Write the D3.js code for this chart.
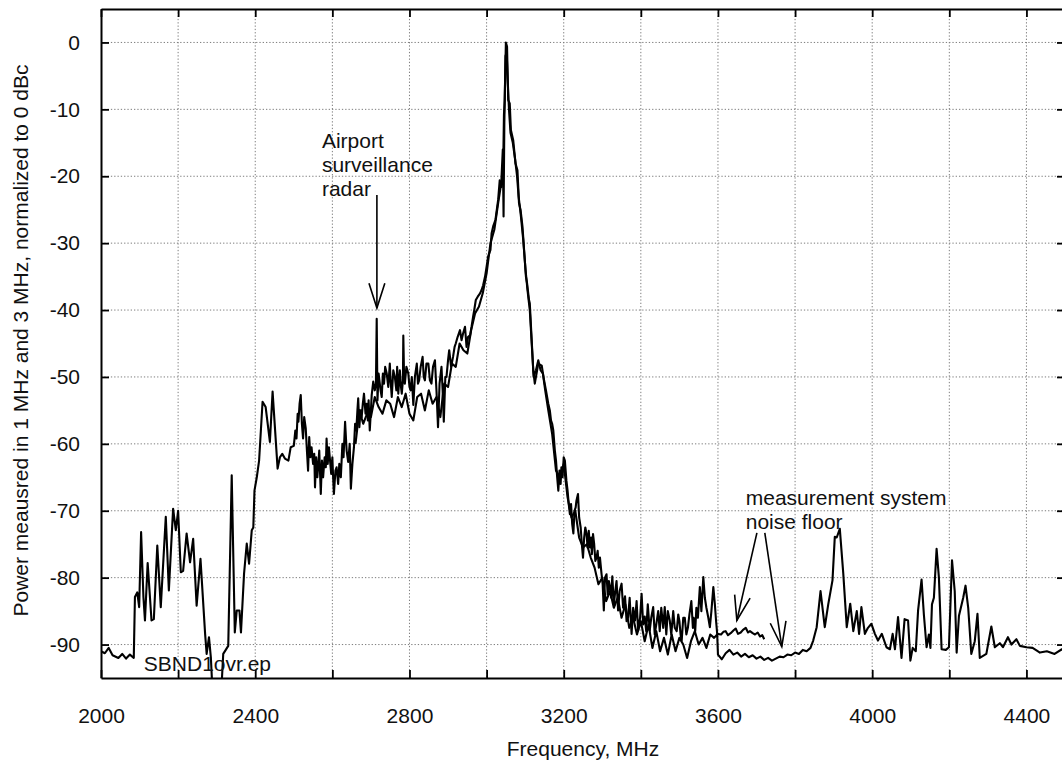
<!DOCTYPE html>
<html>
<head>
<meta charset="utf-8">
<script src="https://cdn.jsdelivr.net/npm/d3@7/dist/d3.min.js"></script>
<style>
  html, body { margin: 0; padding: 0; background: #fff; }
  svg { display: block; }
  text { font-family: "Liberation Sans", Arial, Helvetica, sans-serif; fill: #111; }
</style>
</head>
<body>
<svg id="chart" width="1062" height="768"></svg>
<script>
// ---- data ----
const xTicks = [2000, 2200, 2400, 2600, 2800, 3000, 3200, 3400, 3600, 3800, 4000, 4200, 4400];
const xTickLabels = ["2000", "", "2400", "", "2800", "", "3200", "", "3600", "", "4000", "", "4400"];
const yTicks = [0, -10, -20, -30, -40, -50, -60, -70, -80, -90];
const yTickLabels = ["0", "-10", "-20", "-30", "-40", "-50", "-60", "-70", "-80", "-90"];

// Trace A: [MHz, dBc], 2000 - 3720 MHz (ends on the upper noise floor)
const traceA = [
[2000,-91.0],[2010,-91.3],[2020,-90.5],[2030,-91.6],[2045,-92.0],[2055,-91.4],[2065,-92.1],[2075,-91.5],[2085,-92.0],[2088,-82.9],[2094,-82.2],[2099,-84.4],[2104,-73.2],[2110,-82.9],[2114,-86.4],[2121,-77.8],[2131,-86.4],[2137,-86.2],[2146,-75.2],[2155,-84.4],[2168,-70.9],[2176,-81.9],[2187,-69.7],[2194,-72.9],[2200,-70.0],[2207,-79.2],[2213,-79.0],[2222,-73.4],[2231,-77.7],[2239,-74.2],[2248,-84.2],[2258,-77.2],[2270,-88.4],[2274,-91.4],[2280,-88.9],[2285,-92.0],[2290,-98.0],[2311,-98.0],[2317,-91.4],[2330,-90.2],[2339,-64.7],[2347,-88.2],[2352,-84.9],[2359,-84.9],[2363,-88.2],[2371,-79.4],[2378,-74.9],[2384,-77.9],[2391,-72.9],[2395,-72.5],[2398,-67.0],[2404,-65.0],[2410,-62.5],[2419,-53.7],[2427,-54.5],[2438,-59.7],[2445,-52.2],[2458,-63.7],[2464,-62.0],[2470,-61.5],[2477,-62.2],[2486,-62.5],[2492,-60.5],
[2500,-60.3],[2504,-58.0],[2507,-59.2],[2510,-55.5],[2512,-56.7],[2515,-54.0],[2518,-52.7],[2521,-57.0],[2524,-59.2],[2527,-56.0],[2531,-57.7],[2534,-61.0],[2537,-64.0],[2540,-59.0],[2543,-62.0],[2546,-60.5],[2550,-63.0],[2553,-61.5],[2555,-66.5],[2558,-62.0],[2561,-65.0],[2563,-63.5],[2566,-61.0],[2570,-67.5],[2573,-62.5],[2576,-65.0],[2580,-62.0],[2583,-63.5],[2585,-59.2],[2588,-63.0],[2591,-60.5],[2594,-62.5],[2597,-64.5],[2600,-62.0],[2602,-65.0],
[2604,-67.5],[2608,-64.0],[2611,-63.5],[2615,-66.0],[2618,-63.0],[2622,-65.0],[2626,-60.0],[2629,-62.0],[2633,-56.7],[2637,-61.0],[2641,-62.7],[2645,-60.0],[2648,-66.7],[2652,-63.0],[2656,-60.5],[2659,-57.0],[2662,-58.0],[2665,-55.0],[2667,-53.2],[2670,-57.5],[2673,-55.0],[2676,-56.0],[2679,-54.0],[2682,-52.5],[2686,-55.5],[2689,-54.0],[2692,-56.5],[2694,-53.5],[2697,-58.0],[2700,-55.0],[2702,-52.7],[2706,-50.7],[2710,-52.0],[2713,-51.0],[2715,-41.3],
[2717,-53.5],[2720,-49.5],[2722,-50.5],[2725,-52.0],[2728,-53.0],[2731,-49.5],[2734,-51.0],[2737,-48.5],[2741,-49.5],[2745,-51.5],[2749,-48.0],[2751,-50.5],[2754,-53.0],[2758,-49.0],[2762,-50.0],[2766,-52.0],[2768,-48.5],[2771,-52.5],[2775,-49.0],[2778,-51.5],[2780,-52.5],[2783,-50.5],[2784,-43.8],[2786,-50.0],[2788,-51.0],[2792,-48.5],[2797,-49.5],[2800,-51.5],[2803,-52.0],[2806,-50.0],[2810,-54.2],[2814,-50.0],[2819,-48.0],[2822,-51.0],[2825,-50.5],[2829,-48.5],[2834,-47.0],[2837,-50.0],[2840,-50.5],[2844,-48.0],[2849,-48.0],[2853,-50.5],[2857,-51.0],[2861,-48.5],[2866,-47.5],[2870,-52.0],[2874,-57.5],[2878,-51.0],[2883,-48.5],[2886,-52.0],[2889,-56.7],[2893,-50.0],[2896,-50.0],[2900,-47.5],[2903,-46.0],[2908,-48.5],[2913,-47.0],[2917,-45.5],[2920,-45.0],[2925,-44.0],[2931,-43.0],[2935,-44.5],[2939,-43.5],[2944,-42.5],[2948,-45.5],[2952,-44.0],[2957,-43.8],[2961,-42.5],[2965,-41.0],[2968,-40.0],[2972,-38.5],[2977,-38.0],[2983,-37.5],[2987,-37.0],[2991,-36.3],[2996,-35.0],[3000,-33.5],
[3004,-32.0],[3010,-31.0],[3013,-28.5],[3017,-27.5],[3023,-26.5],[3030,-23.5],[3034,-20.6],[3039,-21.6],[3043,-18.6],[3045,-10.8],[3047,-8.6],[3050,0.0],[3053,-0.6],[3056,-8.6],[3060,-9.1],[3063,-13.1],[3069,-14.6],[3075,-18.1],[3080,-19.1],[3084,-24.0],[3088,-25.0],[3093,-27.5],[3099,-32.5],[3102,-35.0],[3105,-36.0],[3110,-38.5],[3112,-39.0],[3121,-49.0],[3125,-51.0],[3134,-48.0],[3143,-48.3],
[3149,-50.5],[3154,-52.0],[3160,-54.0],[3164,-55.0],[3167,-56.5],[3170,-57.0],[3173,-58.0],[3177,-61.0],[3180,-62.5],[3183,-65.0],[3186,-67.0],[3189,-64.0],[3192,-66.0],[3194,-63.5],[3197,-65.0],[3200,-62.0],[3203,-62.5],[3207,-65.5],[3210,-67.0],[3213,-69.0],[3216,-70.5],[3219,-69.0],[3222,-72.0],[3225,-73.4],[3228,-70.0],[3231,-69.5],[3233,-68.5],[3237,-67.5],[3240,-71.0],[3244,-72.5],[3247,-75.0],[3250,-77.0],[3253,-74.0],[3256,-72.5],[3259,-73.4],[3262,-75.5],[3265,-73.0],[3268,-75.5],[3271,-74.0],[3273,-76.5],[3276,-73.5],[3279,-75.0],[3282,-77.5],[3285,-77.0],[3288,-76.0],[3291,-78.5],[3294,-77.0],[3298,-79.4],[3301,-81.0],[3304,-84.9],[3307,-80.0],[3311,-79.5],[3314,-82.5],[3317,-80.5],[3320,-81.4],[3323,-83.0],[3326,-79.8],[3330,-84.0],[3333,-82.4],[3337,-80.5],[3341,-84.9],[3345,-82.0],[3350,-80.9],[3354,-84.5],[3359,-82.8],[3363,-86.5],[3367,-85.9],[3371,-83.0],[3376,-88.4],[3380,-84.5],[3385,-86.4],[3389,-83.5],[3393,-87.9],[3398,-86.0],[3402,-82.4],[3406,-87.0],[3410,-85.8],[3414,-88.0],[3418,-84.0],[3423,-87.9],[3427,-86.0],[3432,-84.4],[3436,-88.5],[3440,-87.0],[3445,-85.0],[3449,-88.0],[3453,-84.5],[3458,-87.5],[3462,-84.4],[3466,-88.5],[3470,-85.0],[3475,-86.4],[3479,-88.5],[3484,-85.0],[3488,-87.5],[3493,-88.0],[3497,-85.5],[3500,-86.5],[3503,-88.5],[3506,-89.4],[3510,-86.0],[3514,-86.0],[3518,-88.5],[3522,-87.5],[3526,-85.5],[3531,-83.5],[3535,-87.5],[3537,-86.0],[3541,-88.0],[3544,-84.5],[3548,-86.0],[3553,-81.4],[3557,-85.0],[3562,-79.9],[3566,-83.0],[3570,-84.5],[3575,-86.0],[3579,-87.4],[3583,-85.0],[3588,-81.4],[3592,-84.0],[3595,-86.4],[3598,-88.4],
[3608,-88.5],[3614,-88.1],[3620,-88.0],[3626,-88.6],[3633,-88.3],[3640,-87.9],[3646,-87.6],[3652,-88.4],[3659,-88.2],[3665,-87.8],[3672,-87.5],[3678,-88.2],[3683,-88.0],[3690,-88.3],[3696,-88.5],[3703,-88.2],[3709,-88.8],[3715,-88.6],[3720,-89.2]
];

// Trace B: [MHz, dBc], 2660 - 4500 MHz (ends on the lower noise floor)
const traceB = [
[2660,-60.0],[2670,-55.0],[2680,-57.0],[2690,-55.5],[2700,-56.0],[2710,-53.0],[2720,-54.5],[2730,-55.5],[2740,-53.5],[2750,-54.0],[2760,-56.0],[2770,-53.0],[2780,-54.5],[2790,-52.5],[2800,-55.5],[2810,-56.5],[2820,-53.0],[2830,-52.5],[2840,-55.0],[2850,-52.0],[2860,-54.0],[2870,-53.0],[2880,-56.0],[2890,-51.0],[2900,-51.5],[2910,-48.0],[2920,-48.5],[2930,-45.0],[2940,-46.0],[2950,-46.5],[2960,-43.0],[2970,-40.5],[2980,-39.5],[2990,-37.5],[3000,-34.5],[3010,-30.0],[3020,-28.0],[3030,-24.0],[3038,-21.0],[3042,-16.0],[3044,-26.0],[3046,-12.0],[3049,-2.0],[3052,-1.5],[3055,-6.0],[3058,-10.0],[3062,-13.5],[3068,-15.0],[3074,-17.5],[3079,-20.0],[3083,-23.0],[3089,-26.0],[3095,-29.5],[3101,-34.0],[3106,-37.0],[3112,-40.0],[3118,-46.0],[3122,-50.0],[3128,-49.0],[3134,-47.5],[3140,-49.0],[3146,-49.5],[3152,-52.0],[3160,-55.0],[3170,-58.5],[3180,-64.0],[3190,-65.0],[3200,-63.0],[3210,-68.0],[3220,-71.0],[3230,-70.0],[3240,-74.0],[3250,-75.5],[3260,-75.0],[3270,-77.0],[3280,-78.5],[3290,-81.0],[3300,-80.0],[3310,-83.5],[3320,-82.0],[3330,-84.5],[3340,-83.0],[3350,-86.0],[3360,-84.0],[3370,-87.5],[3380,-86.0],[3390,-88.5],[3400,-86.5],[3410,-89.5],[3420,-87.0],[3430,-90.5],[3440,-88.0],[3450,-91.0],[3460,-89.0],[3470,-91.5],[3480,-88.5],[3490,-91.0],[3500,-89.0],[3510,-90.0],[3520,-92.0],[3530,-89.5],[3540,-88.0],[3550,-90.0],[3560,-89.0],[3570,-90.5],[3580,-88.5],[3590,-89.0],[3598,-88.5],[3600,-91.5],
[3610,-92.2],[3620,-91.3],[3630,-90.8],[3640,-91.5],[3650,-91.2],[3660,-91.8],[3670,-91.4],[3680,-91.9],[3690,-91.6],[3700,-92.1],[3710,-91.8],[3720,-92.3],[3730,-92.0],[3740,-92.4],[3750,-92.1],[3760,-91.8],[3770,-91.9],[3780,-91.5],[3790,-91.6],[3800,-91.2],[3810,-91.4],[3820,-90.8],[3830,-91.0],[3840,-90.5],
[3847,-89.4],[3856,-87.4],[3866,-82.0],[3877,-87.4],[3886,-84.0],[3897,-80.4],[3903,-73.9],[3908,-74.0],[3916,-72.7],[3925,-79.4],[3934,-87.4],[3943,-83.9],[3951,-88.0],[3960,-85.0],[3966,-88.4],[3972,-84.4],[3981,-88.4],[3989,-87.5],[3998,-86.9],[4007,-88.4],[4015,-89.4],[4025,-88.4],[4037,-90.4],[4046,-90.7],[4053,-88.4],[4059,-90.7],[4067,-85.9],[4076,-92.0],[4084,-86.2],[4093,-86.4],[4099,-92.4],[4105,-90.5],[4113,-91.0],[4119,-84.9],[4128,-80.3],[4134,-85.5],[4141,-90.4],[4147,-88.5],[4151,-90.5],[4155,-84.0],[4160,-83.0],[4167,-75.7],[4173,-80.0],[4180,-90.7],[4191,-90.8],[4199,-90.4],[4207,-77.4],[4214,-82.0],[4219,-91.2],[4225,-85.7],[4236,-83.0],[4242,-81.2],[4249,-84.5],[4257,-91.4],[4266,-89.5],[4273,-85.4],[4279,-92.0],[4296,-91.4],[4309,-87.3],[4318,-90.4],[4331,-89.8],[4339,-90.4],[4352,-88.9],[4361,-90.0],[4374,-89.2],[4383,-90.2],[4400,-90.4],[4416,-90.5],[4435,-91.2],[4453,-91.0],[4473,-91.4],[4492,-90.7],[4500,-90.8]
];

(function () {
// ---- layout ----
const mL = 101, mT = 9, mR = 1065, mB = 678;
const svg = d3.select("#chart");
const x = d3.scaleLinear().domain([2000, 4500]).range([mL, mR]);
const y = d3.scaleLinear().domain([-95, 5]).range([mB, mT]);
const FS = 21;

// gridlines
const grid = svg.append("g").attr("stroke", "#7d7d7d").attr("stroke-width", 1)
  .attr("stroke-dasharray", "1.3,2").attr("fill", "none");
xTicks.filter(d => d > 2000).forEach(d => {
  grid.append("line").attr("x1", x(d)).attr("x2", x(d)).attr("y1", mT).attr("y2", mB);
});
yTicks.forEach(d => {
  grid.append("line").attr("x1", mL).attr("x2", mR).attr("y1", y(d)).attr("y2", y(d));
});

// traces (clipped)
svg.append("clipPath").attr("id", "clip").append("rect")
  .attr("x", mL).attr("y", mT).attr("width", mR - mL).attr("height", mB - mT);
const line = d3.line().x(d => x(d[0])).y(d => y(d[1]));
const tg = svg.append("g").attr("clip-path", "url(#clip)");
[traceB, traceA].forEach(t => {
  tg.append("path").datum(t).attr("d", line).attr("fill", "none")
    .attr("stroke", "#000").attr("stroke-width", 2.1).attr("stroke-linejoin", "round");
});

// axes (inward ticks on all four sides)
const tickLen = 8;
const xb = d3.axisBottom(x).tickValues(xTicks).tickSizeInner(-tickLen).tickSizeOuter(0)
  .tickFormat((d, i) => xTickLabels[i]).tickPadding(30);
const xt = d3.axisTop(x).tickValues(xTicks).tickSizeInner(-tickLen).tickSizeOuter(0).tickFormat("");
const yl = d3.axisLeft(y).tickValues(yTicks).tickSizeInner(-tickLen).tickSizeOuter(0)
  .tickFormat((d, i) => yTickLabels[i]).tickPadding(21);
const yr = d3.axisRight(y).tickValues(yTicks).tickSizeInner(-tickLen).tickSizeOuter(0).tickFormat("");

function styleAxis(g) {
  g.select(".domain").attr("stroke", "#000").attr("stroke-width", 2);
  g.selectAll(".tick line").attr("stroke", "#000").attr("stroke-width", 1.8);
  g.selectAll(".tick text").attr("font-size", FS).attr("font-family", "Liberation Sans, Arial, sans-serif").attr("fill", "#111");
}
svg.append("g").attr("transform", `translate(0,${mB})`).call(xb).call(styleAxis);
svg.append("g").attr("transform", `translate(0,${mT})`).call(xt).call(styleAxis);
svg.append("g").attr("transform", `translate(${mL},0)`).call(yl).call(styleAxis);
svg.append("g").attr("transform", `translate(${mR},0)`).call(yr).call(styleAxis);

// axis titles
svg.append("text").attr("x", (mL + mR) / 2).attr("y", 756).attr("text-anchor", "middle")
  .attr("font-size", FS).text("Frequency, MHz");
svg.append("text").attr("transform", `translate(28,${(mT + mB) / 2 - 3}) rotate(-90)`)
  .attr("text-anchor", "middle").attr("font-size", FS)
  .text("Power meausred in 1 MHz and 3 MHz, normalized to 0 dBc");

// annotations
function addText(lines, fx, fy, dy) {
  const t = svg.append("text").attr("font-size", FS);
  lines.forEach((s, i) => t.append("tspan").attr("x", x(fx)).attr("y", y(fy) + i * dy).text(s));
}
addText(["Airport", "surveillance", "radar"], 2573, -15.8, 23.8);
addText(["measurement system", "noise floor"], 3672, -69.2, 23.8);
addText(["SBND1ovr.ep"], 2111, -93.9, 0);

function arrow(f0, p0, f1, p1) {
  const x0 = x(f0), y0 = y(p0), x1 = x(f1), y1 = y(p1);
  const g = svg.append("g").attr("stroke", "#000").attr("stroke-width", 1.6).attr("fill", "none");
  g.append("line").attr("x1", x0).attr("y1", y0).attr("x2", x1).attr("y2", y1);
  const a = Math.atan2(y1 - y0, x1 - x0), L = 26, h = 0.31;
  const p = [[x1 - L * Math.cos(a - h), y1 - L * Math.sin(a - h)], [x1, y1], [x1 - L * Math.cos(a + h), y1 - L * Math.sin(a + h)]];
  g.append("path").attr("d", d3.line()(p));
}
arrow(2715.5, -22.8, 2715.5, -39.7);
arrow(3701, -73.3, 3649, -86.4);
arrow(3721.5, -73.3, 3765.5, -90.3);
})();
</script>
</body>
</html>
